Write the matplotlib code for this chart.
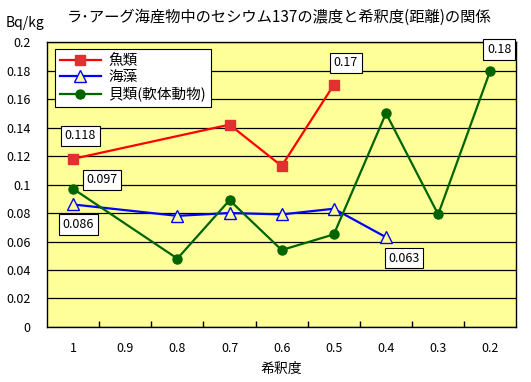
import matplotlib
matplotlib.use("Agg")
import matplotlib.pyplot as plt

plt.rcParams['font.family'] = ['Noto Sans CJK JP', 'DejaVu Sans']

categories = ["1", "0.9", "0.8", "0.7", "0.6", "0.5", "0.4", "0.3", "0.2"]
fish = [0.118, None, None, 0.142, 0.113, 0.17, None, None, None]
seaweed = [0.086, None, 0.078, 0.080, 0.079, 0.083, 0.063, None, None]
shellfish = [0.097, None, 0.048, 0.089, 0.054, 0.065, 0.150, 0.079, 0.180]

# which points get a value box, and pixel offset of the box
fish_labels = {0: (7, 23), 5: (12, 22)}
seaweed_labels = {0: (5, -20), 6: (18, -21)}
shellfish_labels = {0: (29, 9), 8: (9, 21)}

bg = "#FFFF99"

fig = plt.figure(figsize=(5.31, 3.82), dpi=100)
ax = fig.add_axes([0.0885, 0.144, 0.884, 0.746])
ax.set_facecolor(bg)


def draw(values, color, marker, mfc, ms, label, boxes):
    xs = [i for i, v in enumerate(values) if v is not None]
    ys = [values[i] for i in xs]
    ax.plot(xs, ys, color=color, marker=marker, markersize=ms,
            markerfacecolor=mfc, markeredgecolor=color if mfc == bg else mfc,
            linewidth=1.6, label=label, zorder=3)
    for i, (dx, dy) in boxes.items():
        v = values[i]
        ax.annotate("%.3f" % v if v * 100 % 1 > 1e-6 else "%g" % v, (i, v),
                    xytext=(dx, dy), textcoords="offset pixels",
                    ha="center", va="center", fontsize=9,
                    bbox=dict(boxstyle="square,pad=0.3", fc="white", ec="black", lw=0.8),
                    zorder=5)


draw(fish, "#FF0000", "s", "#E03030", 7, "魚類", fish_labels)
draw(seaweed, "#0000FF", "^", bg, 8, "海藻", seaweed_labels)
draw(shellfish, "#006400", "o", "#006400", 6.5, "貝類(軟体動物)", shellfish_labels)

ax.set_xlim(-0.5, 8.5)
ax.set_ylim(0, 0.2)
ax.set_yticks([i * 0.02 for i in range(11)])
ax.set_yticklabels(["0", "0.02", "0.04", "0.06", "0.08", "0.1", "0.12",
                    "0.14", "0.16", "0.18", "0.2"])
ax.yaxis.grid(True, color="black", linewidth=0.9)
ax.set_axisbelow(True)
ax.tick_params(axis="y", length=0, labelsize=9, pad=12)

ax.set_xticks(range(len(categories)))
ax.set_xticklabels(categories)
ax.set_xticks([i + 0.5 for i in range(len(categories) - 1)], minor=True)
ax.tick_params(axis="x", which="major", length=0, labelsize=9, pad=11)
ax.tick_params(axis="x", which="minor", direction="in", length=4, width=1)
ax.set_xlabel("希釈度", fontsize=10, labelpad=5)

for s in ax.spines.values():
    s.set_linewidth(1.0)
    s.set_color("black")

leg = ax.legend(loc="upper left", bbox_to_anchor=(0.017, 0.975), borderaxespad=0,
                fontsize=10.5, frameon=True, fancybox=False, framealpha=1,
                edgecolor="black", handlelength=2.8, borderpad=0.35,
                labelspacing=0.15, handletextpad=0.5)
leg.get_frame().set_linewidth(0.8)

fig.text(0.525, 0.955, "ラ･アーグ海産物中のセシウム137の濃度と希釈度(距離)の関係",
         ha="center", va="center", fontsize=11)
fig.text(0.01, 0.94, "Bq/kg", ha="left", va="center", fontsize=10)

fig.savefig("out.png", dpi=100)
